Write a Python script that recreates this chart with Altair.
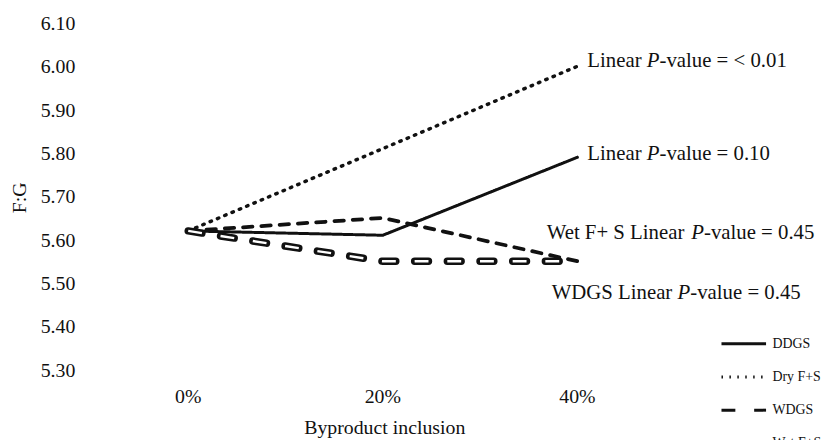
import altair as alt
import pandas as pd

# ---------------- data ----------------
inclusion = [0, 20, 40]                      # byproduct inclusion, %
series_names = ["DDGS", "Dry F+S", "WDGS", "Wet F+S"]
ddgs = [5.62, 5.61, 5.79]
dry_fs = [5.62, 5.81, 6.00]
wdgs = [5.62, 5.55, 5.55]
wet_fs = [5.62, 5.65, 5.55]

x_ticks = [0, 20, 40]
x_tick_labels = ["0%", "20%", "40%"]
y_ticks = [5.30, 5.40, 5.50, 5.60, 5.70, 5.80, 5.90, 6.00, 6.10]
y_tick_labels = ["5.30", "5.40", "5.50", "5.60", "5.70", "5.80", "5.90", "6.00", "6.10"]

ann_series = ["Dry F+S", "DDGS", "Wet F+S", "WDGS"]
ann_prefix = ["Linear ", "Linear ", "Wet F+ S Linear ", "WDGS Linear "]
ann_italic = ["P", "P", "P", "P"]
ann_suffix = ["-value = < 0.01", "-value = 0.10", "-value = 0.45", "-value = 0.45"]

# ---------------- styling ----------------
FONT = "Liberation Serif"
INK = "#111111"
ANN_SIZE = 21
ann_dx = [10, 10, -31, -26]
ann_dy = [1, 3, -22, 38]

dash_range = [[1, 0], [1.5, 6.5], [14, 19], [9.5, 9]]
width_by_series = {"DDGS": 3, "Dry F+S": 3.5, "WDGS": 7.5, "Wet F+S": 3.8}

# Times / Liberation Serif advance widths (1/1000 em) for the annotation text
TW = {" ": 250, "-": 333, "=": 564, "<": 564, "+": 564, ".": 250,
      "0": 500, "1": 500, "4": 500, "5": 500,
      "L": 611, "i": 278, "n": 500, "e": 444, "a": 444, "r": 333, "v": 500,
      "l": 278, "u": 500, "W": 944, "t": 278, "F": 556, "S": 556, "D": 722,
      "G": 722, "P": 611}


def text_width(s, size):
    return sum(TW.get(c, 500) for c in s) * size / 1000.0


series_values = [ddgs, dry_fs, wdgs, wet_fs]
rows = []
for name, vals in zip(series_names, series_values):
    for x, v in zip(inclusion, vals):
        rows.append({"series": name, "inclusion": x, "fg": v})
df = pd.DataFrame(rows)
end_value = {name: vals[-1] for name, vals in zip(series_names, series_values)}

X_DOMAIN = [-9.16, 64.12]
Y_DOMAIN = [5.30, 6.10]
x_scale = alt.Scale(domain=X_DOMAIN, nice=False, zero=False)
y_scale = alt.Scale(domain=Y_DOMAIN, nice=False, zero=False)

x_axis = alt.Axis(values=x_ticks, labels=False, title="Byproduct inclusion",
                  grid=False, domain=False, ticks=False, tickSize=0,
                  titleFont=FONT, titleFontSize=20, titleFontWeight="normal", titleColor=INK,
                  titleX=288, titleY=65, titleBaseline="alphabetic", titleAlign="center")
y_axis = alt.Axis(values=y_ticks, labels=False, title="F:G",
                  grid=False, domain=False, ticks=False, tickSize=0,
                  titleFont=FONT, titleFontSize=20, titleFontWeight="normal", titleColor=INK,
                  titleX=-80, titleY=176, titleAngle=270, titleAlign="center",
                  titleBaseline="middle")

X = alt.X("inclusion:Q", scale=x_scale, axis=x_axis)
Y = alt.Y("fg:Q", scale=y_scale, axis=y_axis)

legend = alt.Legend(title=None, orient="none", legendX=627, legendY=300,
                    symbolType="stroke", symbolSize=2025, symbolStrokeColor=INK,
                    symbolStrokeWidth=3,
                    labelFont=FONT, labelFontSize=14, labelColor=INK,
                    labelOffset=5, rowPadding=2.5, padding=0)
dash_scale = alt.Scale(domain=series_names, range=dash_range)

layers = []
for name in series_names:
    layers.append(
        alt.Chart(df).transform_filter(alt.datum.series == name).mark_line(
            color=INK, strokeCap="round", strokeJoin="round",
            strokeWidth=width_by_series[name]
        ).encode(x=X, y=Y,
                 strokeDash=alt.StrokeDash("series:N", scale=dash_scale, legend=legend))
    )
# white slot inside the WDGS capsules
layers.append(
    alt.Chart(df).transform_filter(alt.datum.series == "WDGS").mark_line(
        color="white", strokeWidth=2.4, strokeDash=[14, 19], strokeCap="butt",
        strokeJoin="round"
    ).encode(x=X, y=Y)
)

# tick labels (serif), placed through the chart scales
ydf = pd.DataFrame({"inclusion": [X_DOMAIN[0]] * len(y_ticks), "fg": y_ticks,
                    "label": y_tick_labels})
layers.append(
    alt.Chart(ydf).mark_text(align="right", baseline="middle", font=FONT, fontSize=20,
                             color=INK, dx=-24, dy=1).encode(x=X, y=Y, text="label:N")
)
xdf = pd.DataFrame({"inclusion": x_ticks, "fg": [Y_DOMAIN[0]] * len(x_ticks),
                    "label": x_tick_labels})
layers.append(
    alt.Chart(xdf).mark_text(align="center", baseline="alphabetic", font=FONT, fontSize=20,
                             color=INK, dy=34).encode(x=X, y=Y, text="label:N")
)

for i, s in enumerate(ann_series):
    adf = pd.DataFrame({"inclusion": [inclusion[-1]], "fg": [end_value[s]]})
    w1 = text_width(ann_prefix[i], ANN_SIZE)
    w2 = text_width(ann_italic[i], ANN_SIZE)
    parts = [(ann_prefix[i], 0, "normal"), (ann_italic[i], w1, "italic"),
             (ann_suffix[i], w1 + w2, "normal")]
    for txt, off, style in parts:
        layers.append(
            alt.Chart(adf).mark_text(
                text=txt, align="left", baseline="alphabetic", font=FONT,
                fontSize=ANN_SIZE, fontStyle=style, color=INK,
                dx=ann_dx[i] + off, dy=ann_dy[i]
            ).encode(x=X, y=Y)
        )

chart = alt.layer(*layers).properties(
    width=720, height=350,
    autosize=alt.AutoSizeParams(type="none"),
    padding={"left": 92, "top": 13, "right": 10, "bottom": 69},
    background="white",
).configure_view(stroke=None).configure_legend(labelFont=FONT)

chart.save("out.html", embed_options={"renderer": "svg", "actions": False})
